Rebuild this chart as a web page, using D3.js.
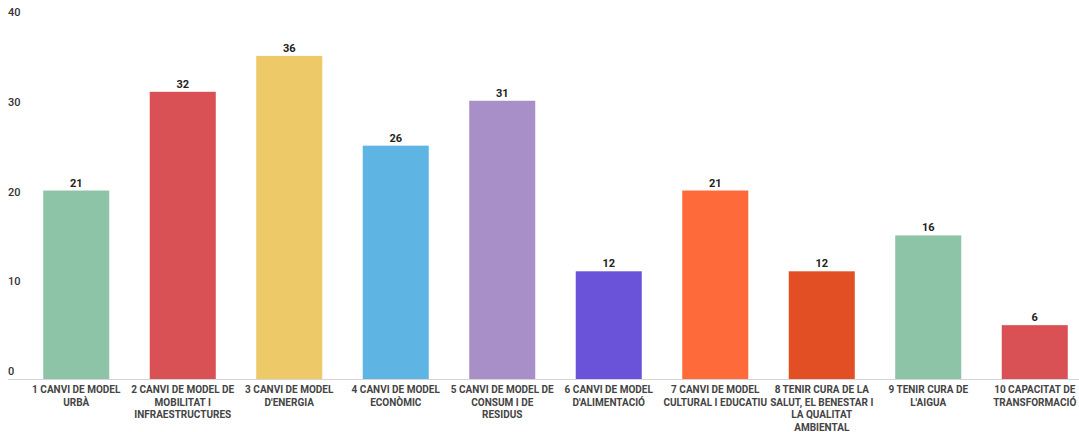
<!DOCTYPE html>
<html>
<head>
<meta charset="utf-8">
<script src="https://cdn.jsdelivr.net/npm/d3@7"></script>
<style>
  body { margin: 0; background: #fff; }
  text { font-family: Roboto, "Noto Sans", sans-serif; }
</style>
</head>
<body>
<div id="chart"></div>
<script>
// categories, split into the lines used on the axis
let categories = [
    ["1 CANVI DE MODEL", "URBÀ"],
    ["2 CANVI DE MODEL DE", "MOBILITAT I", "INFRAESTRUCTURES"],
    ["3 CANVI DE MODEL", "D'ENERGIA"],
    ["4 CANVI DE MODEL", "ECONÒMIC"],
    ["5 CANVI DE MODEL DE", "CONSUM I DE", "RESIDUS"],
    ["6 CANVI DE MODEL", "D'ALIMENTACIÓ"],
    ["7 CANVI DE MODEL", "CULTURAL I EDUCATIU"],
    ["8 TENIR CURA DE LA", "SALUT, EL BENESTAR I", "LA QUALITAT", "AMBIENTAL"],
    ["9 TENIR CURA DE", "L'AIGUA"],
    ["10 CAPACITAT DE", "TRANSFORMACIÓ"]
];
let values = [21, 32, 36, 26, 31, 12, 21, 12, 16, 6];
let colors = ["#8dc3a7", "#d95155", "#edc967", "#5eb5e4", "#a98fc8", "#6a52d9", "#ff6a3a", "#e34f25", "#8dc3a7", "#d95155"];
let yTicks = [0, 10, 20, 30, 40];

var width = 1079, height = 432;

var svg = d3.select("#chart")
    .append("svg")
    .attr("width", width)
    .attr("height", height);

// Y scale
var y = d3.scaleLinear()
    .domain([0, 40])
    .range([379, 20]);

// X scale
var x = d3.scaleBand()
    .domain(d3.range(categories.length))
    .range([23, 1088])
    .paddingInner(0.38)
    .paddingOuter(0.19);

// y tick labels (sit above their line)
svg.selectAll("ytick")
    .data(yTicks)
    .enter()
    .append("text")
    .attr("x", 8)
    .attr("y", function (d) { return y(d) - 4; })
    .attr("font-size", "11px")
    .attr("font-weight", "500")
    .attr("fill", "#333")
    .text(function (d) { return d; });

// baseline
svg.append("line")
    .attr("x1", 8)
    .attr("x2", width)
    .attr("y1", y(0) + 0.5)
    .attr("y2", y(0) + 0.5)
    .attr("stroke", "#d4d4d4");

// Bars
svg.selectAll("bar")
    .data(values)
    .enter()
    .append("rect")
    .attr("x", function (d, i) { return x(i); })
    .attr("y", function (d) { return y(d); })
    .attr("width", x.bandwidth())
    .attr("height", function (d) { return y(0) - y(d); })
    .attr("fill", function (d, i) { return colors[i]; });

// value labels
svg.selectAll("vlabel")
    .data(values)
    .enter()
    .append("text")
    .attr("x", function (d, i) { return x(i) + x.bandwidth() / 2; })
    .attr("y", function (d) { return y(d) - 4; })
    .attr("text-anchor", "middle")
    .attr("font-size", "11px")
    .attr("font-weight", "700")
    .attr("fill", "#222")
    .text(function (d) { return d; });

// category labels
var cat = svg.selectAll("clabel")
    .data(categories)
    .enter()
    .append("text")
    .attr("text-anchor", "middle")
    .attr("font-size", "10px")
    .attr("font-weight", "700")
    .attr("fill", "#444");

cat.selectAll("tspan")
    .data(function (d, i) { return d.map(function (s) { return { s: s, i: i }; }); })
    .enter()
    .append("tspan")
    .attr("x", function (d) { return x(d.i) + x.bandwidth() / 2; })
    .attr("y", function (d, j) { return 393 + j * 12.5; })
    .text(function (d) { return d.s; });
</script>
</body>
</html>
